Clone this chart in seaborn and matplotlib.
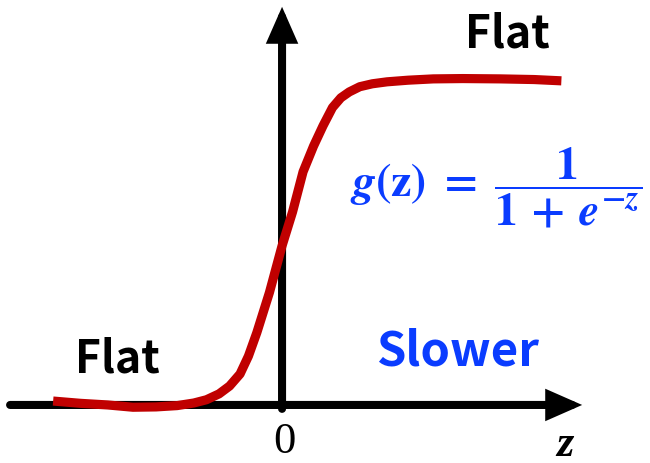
import matplotlib
matplotlib.use("Agg")
import matplotlib.pyplot as plt
import seaborn as sns

# Hand-drawn sigmoid g(z): sample points along the stroke
curve_z = [-10.9, -9.6, -8.3, -7.1, -6.0, -5.0, -4.2, -3.6, -3.0, -2.5, -2.0,
           -1.6, -1.2, -0.6, 0.0, 0.5, 1.0, 1.5, 1.95, 2.4, 2.8, 3.2, 3.7,
           4.3, 5.0, 6.0, 7.2, 8.6, 10.4, 12.0, 13.3]
curve_g = [0.012, 0.005, 0.000, -0.007, -0.006, -0.002, 0.006, 0.016, 0.034, 0.058, 0.095,
           0.150, 0.222, 0.345, 0.488, 0.592, 0.715, 0.794, 0.856, 0.912, 0.942, 0.960, 0.976,
           0.985, 0.991, 0.996, 1.000, 1.001, 1.000, 0.998, 0.994]

# Axis extents (in z and g units)
x_axis_span = [-12.95, 14.29]
y_axis_span = [0.0, 1.221]

# Annotation labels
flat_label = "Flat"
slow_label = "Slower"
origin_label = "0"
axis_label = "z"
formula = r"$g(\mathrm{z})\;=\;\dfrac{1}{1\,+\,e^{-z}}$"

sns.set_theme(style="white")
plt.rcParams["mathtext.fontset"] = "custom"
plt.rcParams["mathtext.rm"] = "STIXGeneral:bold"
plt.rcParams["mathtext.it"] = "STIXGeneral:italic:bold"
plt.rcParams["mathtext.bf"] = "STIXGeneral:bold"

fig = plt.figure(figsize=(6.5, 4.64), dpi=100)
ax = fig.add_axes([0, 0, 1, 1])
ax.set_xlim(-13.43, 17.52)
ax.set_ylim(-0.178, 1.245)
ax.set_axis_off()

arrow_style = dict(arrowstyle="-|>,head_length=0.75,head_width=0.33",
                   lw=5.8, color="black", mutation_scale=22,
                   shrinkA=0, shrinkB=0, joinstyle="miter")
# horizontal z axis
ax.annotate("", xy=(x_axis_span[1], 0), xytext=(x_axis_span[0], 0),
            arrowprops=arrow_style, zorder=1)
# vertical g axis
ax.annotate("", xy=(0, y_axis_span[1]), xytext=(0, y_axis_span[0] - 0.012),
            arrowprops=arrow_style, zorder=1)

sns.lineplot(x=curve_z, y=curve_g, sort=False, estimator=None, color="#C00000",
             linewidth=6.6, ax=ax, zorder=3,
             solid_capstyle="butt", solid_joinstyle="round")

label_font = ["Noto Sans CJK KR", "DejaVu Sans"]
ax.text(10.71, 1.138, flat_label, ha="center", va="center", fontsize=32,
        fontweight="bold", family=label_font, color="black")
ax.text(-7.86, 0.141, flat_label, ha="center", va="center", fontsize=32,
        fontweight="bold", family=label_font, color="black")
ax.text(8.33, 0.166, slow_label, ha="center", va="center", fontsize=34,
        fontweight="bold", family=label_font, color="#0A3CFF")

ax.text(0.1, -0.112, origin_label, ha="center", va="center", fontsize=32,
        family="Liberation Serif", color="black")
ax.text(13.48, -0.153, axis_label, ha="center", va="baseline", fontsize=32,
        family="Liberation Serif", style="italic", fontweight="bold", color="black")

ax.text(10.2, 0.669, formula, ha="center", va="center", fontsize=33,
        color="#0A3CFF")

fig.savefig("out.png", dpi=100)
